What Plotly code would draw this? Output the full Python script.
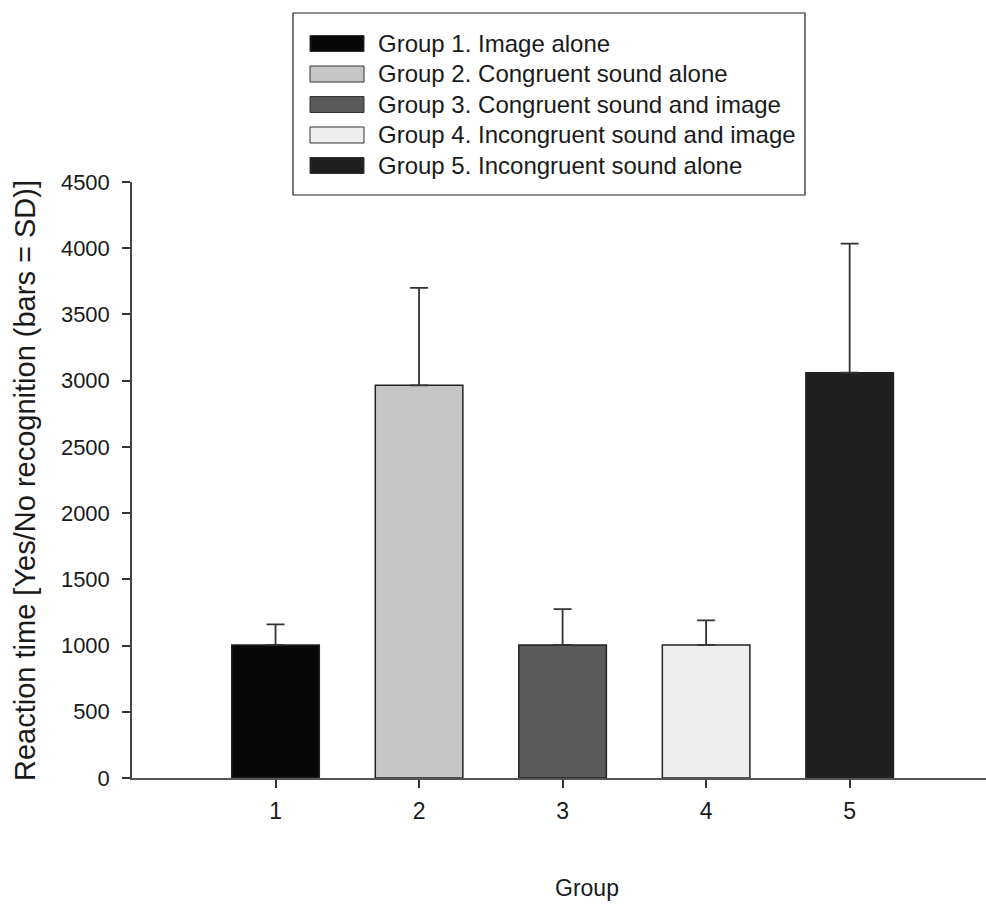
import plotly.graph_objects as go

# ---- data ----
groups = [1, 2, 3, 4, 5]
group_labels = [
    "Group 1. Image alone",
    "Group 2. Congruent sound alone",
    "Group 3. Congruent sound and image",
    "Group 4. Incongruent sound and image",
    "Group 5. Incongruent sound alone",
]
mean_rt = [1005, 2965, 1005, 1005, 3060]
sd_rt = [155, 735, 270, 185, 975]
bar_colors = ["#080808", "#c6c6c6", "#5a5a5a", "#eeeeee", "#1f1f1f"]
y_ticks = [0, 500, 1000, 1500, 2000, 2500, 3000, 3500, 4000, 4500]

# ---- layout geometry (pixels) ----
W, H = 986, 904
L, R, T, B = 132, 0, 182, 126
PW, PH = W - L - R, H - T - B

def px(x):
    return (x - L) / PW

def py(y):
    return (H - B - y) / PH

FONT = "Liberation Sans, Arial, Helvetica, sans-serif"
INK = "#1a1a1a"

fig = go.Figure()
for g, lab, m, s, c in zip(groups, group_labels, mean_rt, sd_rt, bar_colors):
    fig.add_trace(go.Bar(
        x=[g], y=[m], name=lab, width=0.61,
        marker=dict(color=c, line=dict(color="#222222", width=1.5)),
        error_y=dict(type="data", array=[s], symmetric=False, arrayminus=[0],
                     color="#333333", thickness=1.8, width=9),
        showlegend=False,
    ))

shapes = []
annotations = []

# custom legend box
shapes.append(dict(type="rect", xref="paper", yref="paper",
                   x0=px(293), x1=px(805), y0=py(195), y1=py(13),
                   line=dict(color="#222222", width=1.2), fillcolor="white", layer="above"))
row_centers = [43.5, 74, 104.5, 135, 165.5]
for lab, c, yc in zip(group_labels, bar_colors, row_centers):
    shapes.append(dict(type="rect", xref="paper", yref="paper",
                       x0=px(310), x1=px(364), y0=py(yc + 8), y1=py(yc - 8),
                       line=dict(color="#333333", width=1), fillcolor=c, layer="above"))
    annotations.append(dict(text=lab, xref="paper", yref="paper",
                            x=px(376), y=py(yc), xanchor="left", yanchor="middle",
                            showarrow=False, font=dict(family=FONT, size=24, color=INK)))

# axis titles
annotations.append(dict(text="Reaction time [Yes/No recognition (bars = SD)]",
                        xref="paper", yref="paper", x=px(25), y=py(481),
                        xanchor="center", yanchor="middle", textangle=-90,
                        showarrow=False, font=dict(family=FONT, size=29, color=INK)))
annotations.append(dict(text="Group", xref="paper", yref="paper",
                        x=px(587), y=py(888), xanchor="center", yanchor="middle",
                        showarrow=False, font=dict(family=FONT, size=23, color=INK)))

fig.update_layout(
    width=W, height=H,
    margin=dict(l=L, r=R, t=T, b=B, pad=0),
    paper_bgcolor="white", plot_bgcolor="white",
    barmode="overlay",
    font=dict(family=FONT, size=22, color=INK),
    shapes=shapes, annotations=annotations,
    xaxis=dict(range=[0, 5.95], tickvals=groups, ticktext=[str(g) for g in groups],
               ticks="outside", ticklen=8, tickwidth=1.5, tickcolor="#333333",
               showline=True, linecolor="#555555", linewidth=2,
               showgrid=False, zeroline=False, ticklabelstandoff=3,
               tickfont=dict(family=FONT, size=23, color=INK)),
    yaxis=dict(range=[0, 4500], tickvals=y_ticks,
               ticks="outside", ticklen=8, tickwidth=1.5, tickcolor="#333333",
               showline=True, linecolor="#444444", linewidth=1.5,
               showgrid=False, zeroline=False, ticklabelstandoff=8,
               tickfont=dict(family=FONT, size=22, color=INK)),
)

fig.write_html("out.html")
